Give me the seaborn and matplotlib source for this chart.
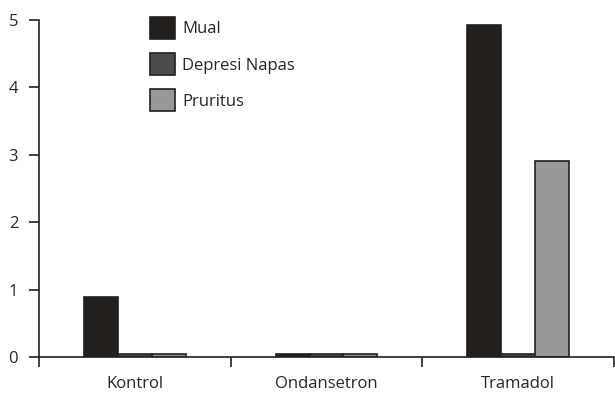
import numpy as np
import pandas as pd
import seaborn as sns
from matplotlib import pyplot as plt
from matplotlib.patches import Patch

# values
groups = ['Kontrol', 'Ondansetron', 'Tramadol']
series = ['Mual', 'Depresi Napas', 'Pruritus']
mual = [0.89, 0.05, 4.93]
depresi = [0.05, 0.05, 0.05]
pruritus = [0.05, 0.05, 2.91]
colors = ['#231f1c', '#4d4a48', '#999898']

data = pd.DataFrame({
    'Kelompok': groups * 3,
    'Efek': [s for s in series for _ in groups],
    'Nilai': mual + depresi + pruritus,
})

sns.set_style('white')
plt.rcParams['font.family'] = ['Open Sans', 'DejaVu Sans']

fig = plt.figure(figsize=(6.15, 4), dpi=100)
ax = fig.add_axes([39 / 615, 43 / 400, 575 / 615, 337 / 400])

sns.barplot(data=data, x='Kelompok', y='Nilai', hue='Efek',
            order=groups, hue_order=series, palette=colors,
            width=0.53, edgecolor='#231f20', linewidth=1.2,
            legend=False, ax=ax)

ax.set_xlim(-0.5, 2.5)
ax.set_ylim(0, 5)
ax.set_xlabel('')
ax.set_ylabel('')

# spines
sns.despine(ax=ax)
for s in ['left', 'bottom']:
    ax.spines[s].set_color('#231f20')
    ax.spines[s].set_linewidth(1.2)

ax.set_yticks(range(6))
ax.tick_params(axis='y', left=True, length=7, width=1.2, color='#231f20',
               labelsize=12, pad=8)

# category labels without tick marks, boundary ticks as minor ticks
ax.set_xticks(range(3))
ax.set_xticklabels(groups)
ax.set_xticks([-0.5, 0.5, 1.5, 2.5], minor=True)
ax.tick_params(axis='x', which='major', length=0, labelsize=12, pad=14)
ax.tick_params(axis='x', which='minor', bottom=True, length=7, width=1.2,
               color='#231f20')

handles = [Patch(facecolor=c, edgecolor='#231f20', linewidth=1.2) for c in colors]
fig.legend(handles=handles, labels=series, loc='upper left',
           bbox_to_anchor=(135 / 615, 1 - 2 / 400), frameon=False,
           fontsize=12, handlelength=1.5, handleheight=1.65,
           handletextpad=0.45, labelspacing=0.85)

fig.savefig('out.png', dpi=100)
